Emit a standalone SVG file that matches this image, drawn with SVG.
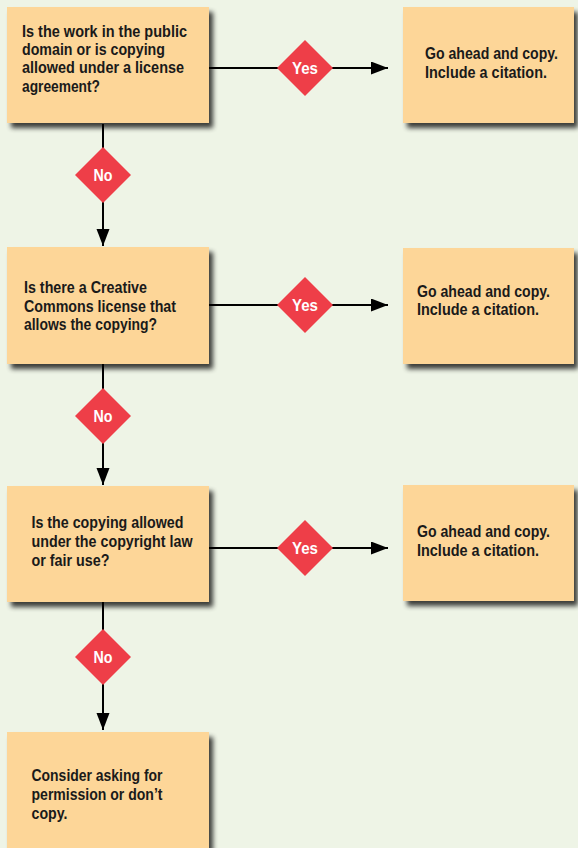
<svg xmlns="http://www.w3.org/2000/svg" width="578" height="848" viewBox="0 0 578 848">
  <style>
    .box { fill: #FDD698; }
    .t { font-family: "Liberation Sans Narrow", "Liberation Sans", Arial, sans-serif; font-weight: bold; font-size: 17px; fill: #1a1a1a; }
    .d { fill: #EE3E48; }
    .dt { font-family: "Liberation Sans Narrow", "Liberation Sans", Arial, sans-serif; font-weight: bold; font-size: 17px; fill: #ffffff; text-anchor: middle; }
    .ln { stroke: #000; stroke-width: 2; fill: none; }
  </style>
  <defs>
    <filter id="sh" x="-10%" y="-10%" width="130%" height="130%">
      <feGaussianBlur in="SourceAlpha" stdDeviation="2.5"/>
      <feOffset dx="4" dy="5" result="b"/>
      <feComponentTransfer><feFuncA type="linear" slope="0.75"/></feComponentTransfer>
      <feMerge><feMergeNode/><feMergeNode in="SourceGraphic"/></feMerge>
    </filter>
    <marker id="arr" markerUnits="userSpaceOnUse" markerWidth="18" markerHeight="14" refX="17" refY="6.5" orient="auto">
      <path d="M0,0 L17,6.5 L0,13 z" fill="#000"/>
    </marker>
  </defs>
  <rect width="578" height="848" fill="#EEF4E6"/>

  <g id="connectors">
    <line class="ln" x1="209" y1="68" x2="388" y2="68" marker-end="url(#arr)"/>
    <line class="ln" x1="209" y1="305" x2="388" y2="305" marker-end="url(#arr)"/>
    <line class="ln" x1="209" y1="548" x2="388" y2="548" marker-end="url(#arr)"/>
    <line class="ln" x1="103" y1="124" x2="103" y2="246" marker-end="url(#arr)"/>
    <line class="ln" x1="103" y1="364" x2="103" y2="485" marker-end="url(#arr)"/>
    <line class="ln" x1="103" y1="602" x2="103" y2="730" marker-end="url(#arr)"/>
  </g>

  <g id="q1">
    <rect class="box" x="7" y="7" width="202" height="116" filter="url(#sh)"/>
    <text class="t"><tspan x="22" y="37" textLength="165" lengthAdjust="spacingAndGlyphs">Is the work in the public</tspan><tspan x="22" y="55" textLength="143" lengthAdjust="spacingAndGlyphs">domain or is copying</tspan><tspan x="22" y="73" textLength="162" lengthAdjust="spacingAndGlyphs">allowed under a license</tspan><tspan x="22" y="92" textLength="78" lengthAdjust="spacingAndGlyphs">agreement?</tspan></text>
  </g>
  <g id="a1">
    <rect class="box" x="403" y="7" width="171" height="116" filter="url(#sh)"/>
    <text class="t"><tspan x="425" y="59" textLength="133" lengthAdjust="spacingAndGlyphs">Go ahead and copy.</tspan><tspan x="425" y="78" textLength="122" lengthAdjust="spacingAndGlyphs">Include a citation.</tspan></text>
  </g>
  <g id="yes1">
    <polygon class="d" points="305,40 333,68 305,96 277,68"/>
    <text class="dt" x="305" y="74" textLength="26" lengthAdjust="spacingAndGlyphs">Yes</text>
  </g>
  <g id="no1">
    <polygon class="d" points="103,147 131,175 103,203 75,175"/>
    <text class="dt" x="103" y="181" textLength="19" lengthAdjust="spacingAndGlyphs">No</text>
  </g>

  <g id="q2">
    <rect class="box" x="7" y="247" width="202" height="117" filter="url(#sh)"/>
    <text class="t"><tspan x="24" y="293" textLength="123" lengthAdjust="spacingAndGlyphs">Is there a Creative</tspan><tspan x="24" y="311.5" textLength="152" lengthAdjust="spacingAndGlyphs">Commons license that</tspan><tspan x="24" y="330" textLength="133" lengthAdjust="spacingAndGlyphs">allows the copying?</tspan></text>
  </g>
  <g id="a2">
    <rect class="box" x="403" y="248" width="171" height="116" filter="url(#sh)"/>
    <text class="t"><tspan x="417" y="297" textLength="133" lengthAdjust="spacingAndGlyphs">Go ahead and copy.</tspan><tspan x="417" y="315" textLength="122" lengthAdjust="spacingAndGlyphs">Include a citation.</tspan></text>
  </g>
  <g id="yes2">
    <polygon class="d" points="305,277 333,305 305,333 277,305"/>
    <text class="dt" x="305" y="311" textLength="26" lengthAdjust="spacingAndGlyphs">Yes</text>
  </g>
  <g id="no2">
    <polygon class="d" points="103,388 131,416 103,444 75,416"/>
    <text class="dt" x="103" y="422" textLength="19" lengthAdjust="spacingAndGlyphs">No</text>
  </g>

  <g id="q3">
    <rect class="box" x="7" y="486" width="202" height="116" filter="url(#sh)"/>
    <text class="t"><tspan x="31.5" y="528" textLength="152" lengthAdjust="spacingAndGlyphs">Is the copying allowed</tspan><tspan x="31.5" y="547" textLength="161" lengthAdjust="spacingAndGlyphs">under the copyright law</tspan><tspan x="31.5" y="566" textLength="78" lengthAdjust="spacingAndGlyphs">or fair use?</tspan></text>
  </g>
  <g id="a3">
    <rect class="box" x="403" y="485" width="171" height="116" filter="url(#sh)"/>
    <text class="t"><tspan x="417" y="537" textLength="133" lengthAdjust="spacingAndGlyphs">Go ahead and copy.</tspan><tspan x="417" y="556" textLength="122" lengthAdjust="spacingAndGlyphs">Include a citation.</tspan></text>
  </g>
  <g id="yes3">
    <polygon class="d" points="305,520 333,548 305,576 277,548"/>
    <text class="dt" x="305" y="554" textLength="26" lengthAdjust="spacingAndGlyphs">Yes</text>
  </g>
  <g id="no3">
    <polygon class="d" points="103,629 131,657 103,685 75,657"/>
    <text class="dt" x="103" y="663" textLength="19" lengthAdjust="spacingAndGlyphs">No</text>
  </g>

  <g id="end">
    <rect class="box" x="7" y="732" width="202" height="130" filter="url(#sh)"/>
    <text class="t"><tspan x="31.5" y="781" textLength="131" lengthAdjust="spacingAndGlyphs">Consider asking for</tspan><tspan x="31.5" y="800" textLength="131" lengthAdjust="spacingAndGlyphs">permission or don’t</tspan><tspan x="31.5" y="819" textLength="36" lengthAdjust="spacingAndGlyphs">copy.</tspan></text>
  </g>
</svg>
